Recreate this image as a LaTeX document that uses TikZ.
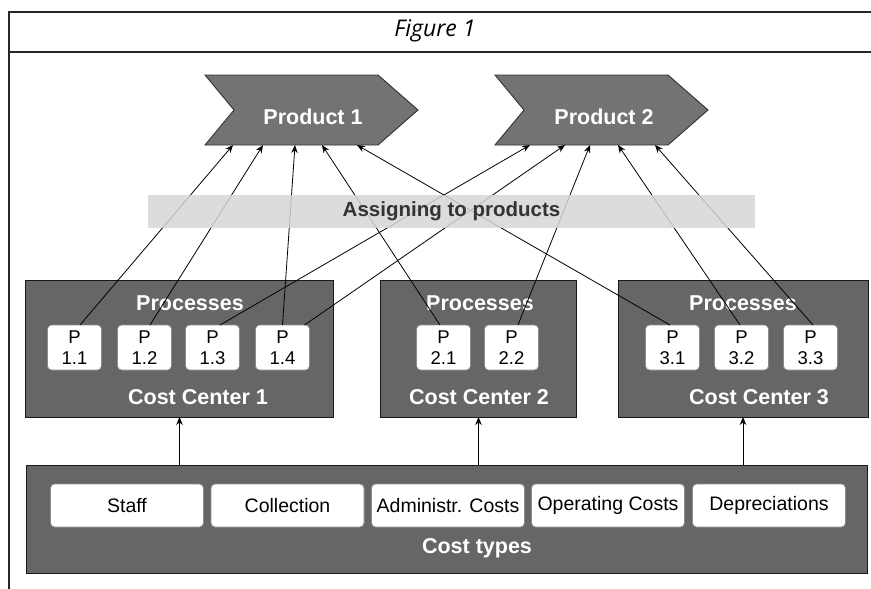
\documentclass[tikz,border=0pt]{standalone}
\usepackage{fontspec}
\setmainfont{Liberation Sans}
\newfontfamily\titlefont{Open Sans}
\usetikzlibrary{arrows.meta,calc}
\pgfdeclarelayer{background}
\pgfsetlayers{background,main}

\begin{document}
\begin{tikzpicture}[x=1pt,y=-1pt,
  frameline/.style={draw=black!85, line width=1.3pt},
  panel/.style={draw=black!90, line width=1pt, fill=black!60, inner sep=0pt, outer sep=0pt},
  chevron/.style={draw=black!80, line width=0.9pt, fill=black!55},
  prodlabel/.style={inner sep=0pt, outer sep=0pt, minimum width=213pt, minimum height=70pt},
  embossed/.style={inner sep=0pt, text=white, font=\bfseries\fontsize{21.5}{24}\selectfont},
  procbox/.style={draw=black!45, line width=0.8pt, fill=white, rounded corners=4pt,
    minimum width=54pt, minimum height=45pt, inner sep=0pt, outer sep=0pt, align=center,
    font=\fontsize{18.5}{21}\selectfont},
  costbox/.style={draw=black!45, line width=0.8pt, fill=white, rounded corners=4pt,
    minimum width=153pt, minimum height=43pt, inner sep=0pt, outer sep=0pt,
    font=\fontsize{19.5}{21}\selectfont},
  band/.style={fill=black!16, fill opacity=0.85, text opacity=1, inner sep=0pt,
    minimum width=607pt, minimum height=33pt, text=black!80,
    font=\bfseries\fontsize{20.5}{22}\selectfont},
  link/.style={draw=black, line width=0.8pt, -{Stealth[length=8pt,width=6.5pt]}},
]
\useasboundingbox (0,0) rectangle (871,589);

% frame and title
\draw[frameline] (9,589) -- (9,12) -- (871,12);
\draw[frameline] (9,52) -- (871,52);
\node[font=\titlefont\itshape\fontsize{23}{26}\selectfont] (title) at (435,31) {Figure 1};

% products
\node[prodlabel] (prod1) at (311.5,110) {};
\node[prodlabel] (prod2) at (601.5,110) {};
\begin{pgfonlayer}{background}
  \foreach \p in {prod1,prod2}{
    \path[chevron] (\p.north west) -- ($(\p.north east)+(-40,0)$) -- (\p.east)
      -- ($(\p.south east)+(-40,0)$) -- (\p.south west) -- ($(\p.west)+(29,0)$) -- cycle;
  }
\end{pgfonlayer}
\node[embossed] (prod1txt) at (313,117) {Product 1};
\node[embossed] (prod2txt) at (604,117) {Product 2};

% cost centers
\node[panel, minimum width=308pt, minimum height=137pt] (cc1) at (179.5,348.5) {};
\node[panel, minimum width=196pt, minimum height=137pt] (cc2) at (478.5,348.5) {};
\node[panel, minimum width=250pt, minimum height=137pt] (cc3) at (743,348.5) {};

\node[embossed] (cc1proc) at (190,303) {Processes};
\node[embossed] (cc2proc) at (480,303) {Processes};
\node[embossed] (cc3proc) at (743,303) {Processes};
\node[embossed] (cc1name) at (198,397) {Cost Center 1};
\node[embossed] (cc2name) at (479,397) {Cost Center 2};
\node[embossed] (cc3name) at (759,397) {Cost Center 3};

\node[procbox] (p11) at (74.5,347.5) {P\\1.1};
\node[procbox] (p12) at (144.5,347.5) {P\\1.2};
\node[procbox] (p13) at (212.5,347.5) {P\\1.3};
\node[procbox] (p14) at (282.5,347.5) {P\\1.4};
\node[procbox] (p21) at (443.5,347.5) {P\\2.1};
\node[procbox] (p22) at (511.5,347.5) {P\\2.2};
\node[procbox] (p31) at (672.5,347.5) {P\\3.1};
\node[procbox] (p32) at (741.5,347.5) {P\\3.2};
\node[procbox] (p33) at (810.5,347.5) {P\\3.3};

% cost types
\node[panel, minimum width=841pt, minimum height=108pt] (types) at (446.5,519) {};
\node[costbox] (staff) at (127,505.5) {Staff};
\node[costbox] (coll) at (287.5,505.5) {Collection};
\node[costbox] (admin) at (448,505.5) {Administr. Costs};
\node[costbox] (oper) at (608,505.5) {Operating Costs};
\node[costbox] (depr) at (769,505.5) {Depreciations};
\node[embossed] (typesname) at (477,548) {Cost types};

% cost types feed the cost centers
\draw[link] (types.north -| cc1.south) -- (cc1.south);
\draw[link] (types.north -| cc2.south) -- (cc2.south);
\draw[link] (types.north -| cc3.south) -- (cc3.south);

% processes assigned to products
\draw[link] ([xshift=5.5pt]p11.north) -- ([xshift=-78.5pt]prod1.south);
\draw[link] ([xshift=5.5pt]p12.north) -- ([xshift=-48.5pt]prod1.south);
\draw[link] (p14.north) -- ([xshift=-16.5pt]prod1.south);
\draw[link] ([xshift=-3.5pt]p21.north) -- ([xshift=10.5pt]prod1.south);
\draw[link] ([xshift=-2.5pt]p31.north) -- ([xshift=45.5pt]prod1.south);

\draw[link] ([xshift=7.5pt]p13.north) -- ([xshift=-71.5pt]prod2.south);
\draw[link] ([xshift=22pt]p14.north) -- ([xshift=-36.5pt]prod2.south);
\draw[link] ([xshift=6.5pt]p22.north) -- ([xshift=-11.5pt]prod2.south);
\draw[link] ([xshift=-1.5pt]p32.north) -- ([xshift=16.5pt]prod2.south);
\draw[link] ([xshift=2.5pt]p33.north) -- ([xshift=53.5pt]prod2.south);

% assignment band
\node[band] (assign) at (451.5,211.5) {Assigning to products};
\end{tikzpicture}
\end{document}
